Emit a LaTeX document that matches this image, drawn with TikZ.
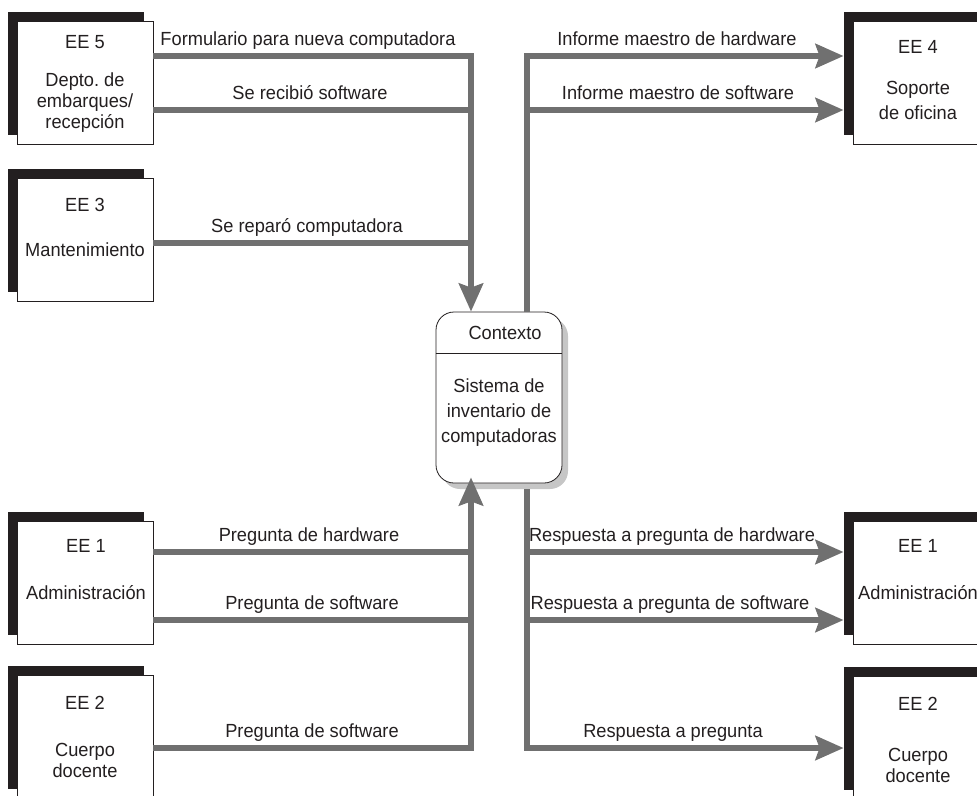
\documentclass[tikz,border=0pt]{standalone}
\usepackage{fontspec}
\setmainfont{Liberation Sans}[FakeStretch=0.96]
\usetikzlibrary{arrows.meta,shadows,positioning}

\definecolor{flowgray}{HTML}{707070}
\definecolor{inkgray}{HTML}{231F20}
\definecolor{shadegray}{HTML}{C6C6C6}

\tikzset{
  ent/.style={draw=inkgray,line width=0.8pt,fill=white,minimum width=136pt,minimum height=123pt,inner sep=0pt,
    general shadow={fill=inkgray,shadow xshift=-9.5pt,shadow yshift=9.5pt}},
  enttxt/.style={align=center,text=inkgray,inner sep=0pt,font=\fontsize{19}{21}\selectfont},
  proc/.style={draw=inkgray,line width=0.8pt,fill=white,rounded corners=18pt,minimum width=126pt,minimum height=171pt,inner sep=0pt,
    general shadow={fill=shadegray,shadow xshift=6pt,shadow yshift=-6pt}},
  flow/.style={draw=flowgray,line width=6.5pt},
  flowto/.style={flow,-{Stealth[length=28pt,width=24pt,inset=4pt]}},
  lbl/.style={anchor=base,text=inkgray,inner sep=0pt,font=\fontsize{19}{21}\selectfont}
}

\begin{document}
\begin{tikzpicture}[x=1pt,y=-1pt]
\path[use as bounding box] (0,0) rectangle (977,795);
\clip (0,0) rectangle (977,795);
%\draw[help lines,step=50] (0,0) grid (977,795);

% external entities
\node[ent] (ee5) at (85,82.5) {};
\node[ent] (ee3) at (85,239.5) {};
\node[ent] (ee1l) at (85,583) {};
\node[ent] (ee2l) at (85,736.5) {};
\node[ent] (ee4) at (921,82.5) {};
\node[ent] (ee1r) at (921,583) {};
\node[ent] (ee2r) at (921,737.5) {};

\node[enttxt] (ee5t) at (85,83.5) {EE 5\\[17pt]Depto.\ de\\embarques/\\recepción};
\node[enttxt] (ee3t) at (85,227.5) {EE 3\\[24pt]Mantenimiento};
\node[enttxt] (ee1lt) at (86,569.5) {EE 1\\[26pt]Administración};
\node[enttxt] (ee2lt) at (85,736.5) {EE 2\\[26pt]Cuerpo\\docente};
\node[enttxt] (ee4t) at (918,80) {EE 4\\[20pt]Soporte\\[4pt]de oficina};
\node[enttxt] (ee1rt) at (918,569.5) {EE 1\\[26pt]Administración};
\node[enttxt] (ee2rt) at (918,740) {EE 2\\[30pt]Cuerpo\\docente};

% process
\node[proc] (ctx) at (499,397.5) {};
\coordinate (divl) at (0,353);
\draw[inkgray,line width=0.8pt] (ctx.west |- divl) -- (ctx.east |- divl);
\node[enttxt] (ctxid) at (505,333) {Contexto};
\node[enttxt,font=\fontsize{19}{25}\selectfont] (ctxname) at (499,413) {Sistema de\\inventario de\\computadoras};

% trunk corners
\coordinate (inT) at (471,56);
\coordinate (outT) at (527,56);
\coordinate (inB) at (471,748);
\coordinate (outB) at (527,748);

% flows into the process
\draw[flowto] (ee5.east |- inT) -- (inT) -- (ctx.north -| inT);
\draw[flow] (ee5.east |- 0,110) -- (inT |- 0,110);
\draw[flow] (ee3.east |- 0,243) -- (inT |- 0,243);
\draw[flowto,shorten >=-6pt] (ee2l.east |- inB) -- (inB) -- (ctx.south -| inB);
\draw[flow] (ee1l.east |- 0,552) -- (inB |- 0,552);
\draw[flow] (ee1l.east |- 0,620) -- (inB |- 0,620);

% flows out of the process
\draw[flowto,shorten >=9pt] (ctx.north -| outT) -- (outT) -- (ee4.west |- outT);
\draw[flowto,shorten >=9pt] (outT |- 0,110) -- (ee4.west |- 0,110);
\draw[flowto,shorten <=6pt,shorten >=9pt] (ctx.south -| outB) -- (outB) -- (ee2r.west |- outB);
\draw[flowto,shorten >=9pt] (outB |- 0,552) -- (ee1r.west |- 0,552);
\draw[flowto,shorten >=9pt] (outB |- 0,620) -- (ee1r.west |- 0,620);

% flow labels
\node[lbl] (lform) at (308,45) {Formulario para nueva computadora};
\node[lbl] (lrecib) at (310,99) {Se recibió software};
\node[lbl] (lrepar) at (307,232) {Se reparó computadora};
\node[lbl] (linfhw) at (677,45) {Informe maestro de hardware};
\node[lbl] (linfsw) at (678,99) {Informe maestro de software};
\node[lbl] (lpreghw) at (309,541) {Pregunta de hardware};
\node[lbl] (lpregsw) at (312,609) {Pregunta de software};
\node[lbl] (lpregsw2) at (312,737) {Pregunta de software};
\node[lbl] (lresphw) at (672,541) {Respuesta a pregunta de hardware};
\node[lbl] (lrespsw) at (670,609) {Respuesta a pregunta de software};
\node[lbl] (lresp) at (673,737) {Respuesta a pregunta};
\end{tikzpicture}
\end{document}
